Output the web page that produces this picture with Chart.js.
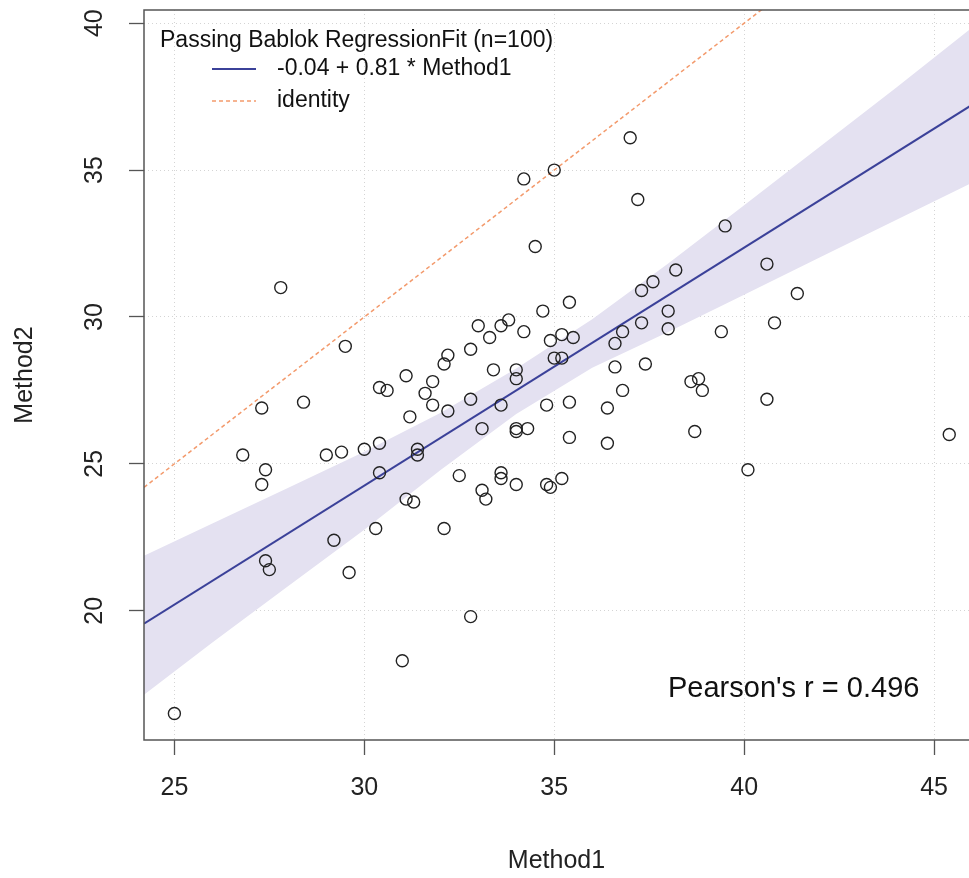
<!DOCTYPE html>
<html>
<head>
<meta charset="utf-8">
<script src="https://cdn.jsdelivr.net/npm/chart.js@4"></script>
<style>
  body { margin: 0; background: #fff; }
  #wrap { width: 969px; height: 878px; }
</style>
</head>
<body>
<div id="wrap"><canvas id="pbCanvas" width="969" height="878"></canvas></div>
<script>
// values
const method1 = [25.0, 26.8, 27.3, 27.4, 27.3, 27.4, 27.5, 27.8, 28.4, 29.0,
  29.4, 29.5, 29.2, 29.6, 30.0, 30.3, 30.4, 30.4, 30.4, 30.6,
  31.0, 31.1, 31.1, 31.2, 31.3, 31.4, 31.4, 31.6, 31.8, 31.8,
  32.1, 32.2, 32.2, 32.1, 32.5, 32.8, 32.8, 32.8, 33.0, 33.1,
  33.1, 33.2, 33.3, 33.4, 33.6, 33.6, 33.6, 33.6, 33.8, 34.0,
  34.0, 34.0, 34.0, 34.0, 34.2, 34.2, 34.3, 34.5, 34.7, 34.8,
  34.8, 34.9, 34.9, 35.0, 35.0, 35.2, 35.2, 35.2, 35.4, 35.4,
  35.4, 35.5, 36.4, 36.4, 36.6, 36.6, 36.8, 36.8, 37.0, 37.2,
  37.3, 37.6, 37.3, 37.4, 38.0, 38.0, 38.2, 38.6, 38.8, 38.9,
  38.7, 39.4, 39.5, 40.1, 40.6, 40.6, 40.8, 41.4, 45.4];
const method2 = [16.5, 25.3, 26.9, 24.8, 24.3, 21.7, 21.4, 31.0, 27.1, 25.3,
  25.4, 29.0, 22.4, 21.3, 25.5, 22.8, 25.7, 24.7, 27.6, 27.5,
  18.3, 28.0, 23.8, 26.6, 23.7, 25.5, 25.3, 27.4, 27.8, 27.0,
  28.4, 28.7, 26.8, 22.8, 24.6, 28.9, 27.2, 19.8, 29.7, 26.2,
  24.1, 23.8, 29.3, 28.2, 29.7, 27.0, 24.7, 24.5, 29.9, 28.2,
  27.9, 26.2, 26.1, 24.3, 34.7, 29.5, 26.2, 32.4, 30.2, 27.0,
  24.3, 24.2, 29.2, 35.0, 28.6, 28.6, 29.4, 24.5, 30.5, 27.1,
  25.9, 29.3, 26.9, 25.7, 29.1, 28.3, 29.5, 27.5, 36.1, 34.0,
  30.9, 31.2, 29.8, 28.4, 30.2, 29.6, 31.6, 27.8, 27.9, 27.5,
  26.1, 29.5, 33.1, 24.8, 31.8, 27.2, 29.8, 30.8, 26.0];

const fitX = [24.2, 46];
const fitY = [19.56, 37.22];
const identX = [24.2, 46];
const identY = [24.2, 46];

const bandX = [24.2, 26, 28, 30, 32, 34, 36, 38, 40, 42, 44, 46];
const bandUpper = [21.87, 22.97, 24.19, 25.41, 26.73, 28.25, 29.92, 31.82, 33.8, 35.8, 37.8, 39.85];
const bandLower = [17.14, 18.92, 20.84, 22.76, 24.78, 26.70, 28.27, 29.49, 30.76, 32.03, 33.3, 34.57];

const xTicks = [25, 30, 35, 40, 45];
const yTicks = [20, 25, 30, 35, 40];

const legendTitle = 'Passing Bablok RegressionFit (n=100)';
const fitLabel = '-0.04 + 0.81 * Method1';
const identLabel = 'identity';
const pearsonText = "Pearson's r = 0.496";

const FONT = '"Liberation Sans", Arial, sans-serif';
const BLUE = '#3b4199';
const ORANGE = '#f39a6c';
const BAND = '#e4e1f1';

function pares(xs, ys) {
  return xs.map((x, i) => ({ x: x, y: ys[i] }));
}

const extras = {
  id: 'extras',
  afterDraw(chart) {
    const ctx = chart.ctx;
    const a = chart.chartArea;
    const ys = chart.scales.y;
    ctx.save();
    // plot box
    ctx.strokeStyle = '#555';
    ctx.lineWidth = 1.5;
    ctx.strokeRect(a.left, a.top, a.right - a.left + 4, a.bottom - a.top);

    // y tick labels, rotated like base R
    ctx.fillStyle = '#222';
    ctx.font = '25px ' + FONT;
    ctx.textAlign = 'center';
    ctx.textBaseline = 'middle';
    yTicks.forEach((v) => {
      const py = ys.getPixelForValue(v);
      ctx.save();
      ctx.translate(95, py);
      ctx.rotate(-Math.PI / 2);
      ctx.fillText(String(v), 0, 0);
      ctx.restore();
    });

    // legend
    ctx.fillStyle = '#111';
    ctx.font = '23px ' + FONT;
    ctx.textAlign = 'left';
    ctx.fillText(legendTitle, 160, 41);
    ctx.fillText(fitLabel, 277, 69);
    ctx.fillText(identLabel, 277, 101);
    ctx.strokeStyle = BLUE;
    ctx.lineWidth = 2;
    ctx.beginPath();
    ctx.moveTo(212, 69);
    ctx.lineTo(256, 69);
    ctx.stroke();
    ctx.strokeStyle = ORANGE;
    ctx.lineWidth = 1.5;
    ctx.setLineDash([4, 3]);
    ctx.beginPath();
    ctx.moveTo(212, 101);
    ctx.lineTo(256, 101);
    ctx.stroke();
    ctx.setLineDash([]);

    // correlation text
    ctx.fillStyle = '#111';
    ctx.font = '29px ' + FONT;
    ctx.fillText(pearsonText, 668, 689);
    ctx.restore();
  }
};

window.onload = function () {
  const ctx = document.getElementById('pbCanvas');
  new Chart(ctx, {
    type: 'scatter',
    data: {
      datasets: [
        {
          label: 'data',
          data: pares(method1, method2),
          pointStyle: 'circle',
          pointRadius: 6,
          pointHoverRadius: 6,
          borderColor: '#222',
          backgroundColor: 'rgba(0,0,0,0)',
          borderWidth: 1.4,
          order: 0
        },
        {
          label: fitLabel,
          data: pares(fitX, fitY),
          showLine: true,
          pointRadius: 0,
          borderColor: BLUE,
          borderWidth: 2,
          order: 1
        },
        {
          label: identLabel,
          data: pares(identX, identY),
          showLine: true,
          pointRadius: 0,
          borderColor: ORANGE,
          borderWidth: 1.5,
          borderDash: [4, 3],
          order: 2
        },
        {
          label: 'lower',
          data: pares(bandX, bandLower),
          showLine: true,
          pointRadius: 0,
          borderWidth: 0,
          borderColor: 'rgba(0,0,0,0)',
          order: 3
        },
        {
          label: 'upper',
          data: pares(bandX, bandUpper),
          showLine: true,
          pointRadius: 0,
          borderWidth: 0,
          borderColor: 'rgba(0,0,0,0)',
          backgroundColor: BAND,
          fill: '-1',
          order: 4
        }
      ]
    },
    options: {
      responsive: false,
      animation: false,
      layout: { autoPadding: false, padding: { top: 10, right: 0, bottom: 0, left: 0 } },
      plugins: {
        legend: { display: false },
        tooltip: { enabled: false }
      },
      scales: {
        x: {
          type: 'linear',
          min: 24.2,
          max: 45.92,
          afterBuildTicks: (s) => { s.ticks = xTicks.map((v) => ({ value: v })); },
          afterFit: (s) => { s.height = 138; s.paddingLeft = 0; s.paddingRight = 0; },
          grid: {
            color: '#d4d4d4',
            lineWidth: 1,
            tickColor: '#555',
            tickWidth: 1.3,
            tickLength: 15,
            tickBorderDash: []
          },
          border: { display: false, dash: [1, 3] },
          ticks: {
            color: '#222',
            font: { family: FONT, size: 25 },
            padding: 18,
            maxRotation: 0
          },
          title: {
            display: true,
            text: 'Method1',
            color: '#222',
            font: { family: FONT, size: 25 },
            padding: { top: 0, bottom: 2 }
          }
        },
        y: {
          type: 'linear',
          min: 15.6,
          max: 40.45,
          afterBuildTicks: (s) => { s.ticks = yTicks.map((v) => ({ value: v })); },
          afterFit: (s) => { s.width = 144; s.paddingTop = 0; s.paddingBottom = 0; },
          grid: {
            color: '#d4d4d4',
            lineWidth: 1,
            tickColor: '#555',
            tickWidth: 1.3,
            tickLength: 15,
            tickBorderDash: []
          },
          border: { display: false, dash: [1, 3] },
          ticks: { display: false },
          title: {
            display: true,
            text: 'Method2',
            color: '#222',
            font: { family: FONT, size: 25 },
            padding: { top: 10, bottom: 0 }
          }
        }
      }
    },
    plugins: [extras]
  });
};
</script>
</body>
</html>
